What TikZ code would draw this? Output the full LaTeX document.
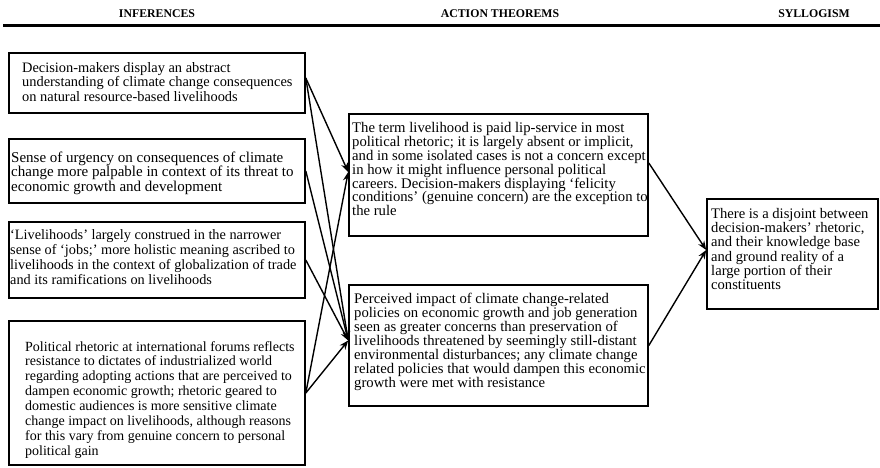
\documentclass[tikz,border=0pt]{standalone}
\usepackage{fontspec}
\setmainfont{Liberation Serif}
\usetikzlibrary{arrows.meta}
\frenchspacing
\begin{document}
\begin{tikzpicture}[x=1pt,y=-1pt,
  box/.style={draw, line width=1.6pt, inner sep=0pt, rectangle},
  txt/.style={anchor=north west, inner sep=0pt, align=left},
  conn/.style={line width=1.4pt, -{Stealth[length=9pt,width=7pt]}},
  head/.style={font=\bfseries\fontsize{11.8}{12}\selectfont, inner sep=0pt}]
\useasboundingbox (0,0) rectangle (880,468);
% headers
\node[head] (h1) at (157,14) {INFERENCES};
\node[head] (h2) at (500,14) {ACTION THEOREMS};
\node[head] (h3) at (814,14) {SYLLOGISM};
\coordinate (r1) at (3,26);
\coordinate (r2) at (880,26);
\draw[line width=3pt] (r1) -- (r2);
% boxes
\node[box, minimum width=296pt, minimum height=60pt] (i1) at (157,83) {};
\node[box, minimum width=296pt, minimum height=64pt] (i2) at (157,171) {};
\node[box, minimum width=296pt, minimum height=76pt] (i3) at (157,260) {};
\node[box, minimum width=296pt, minimum height=144pt] (i4) at (157,393) {};
\node[box, minimum width=299pt, minimum height=122pt] (a1) at (498.5,175) {};
\node[box, minimum width=299pt, minimum height=121pt] (a2) at (498.5,345.5) {};
\node[box, minimum width=171pt, minimum height=110pt] (s) at (792.5,254) {};
% texts
\node[txt, font=\fontsize{14.4}{14.8}\selectfont] (t1) at (22,62)
 {Decision-makers display an abstract\\understanding of climate change consequences\\on natural resource-based livelihoods};
\node[txt, font=\fontsize{15}{14.6}\selectfont] (t2) at (11,151.5)
 {Sense of urgency on consequences of climate\\change more palpable in context of its threat to\\economic growth and development};
\node[txt, font=\fontsize{14.3}{14.9}\selectfont] (t3) at (10,229.5)
 {‘Livelihoods’ largely construed in the narrower\\sense of ‘jobs;’ more holistic meaning ascribed to\\livelihoods in the context of globalization of trade\\and its ramifications on livelihoods};
\node[txt, font=\fontsize{14}{14.9}\selectfont] (t4) at (25,341)
 {Political rhetoric at international forums reflects\\resistance to dictates of industrialized world\\regarding adopting actions that are perceived to\\dampen economic growth; rhetoric geared to\\domestic audiences is more sensitive climate\\change impact on livelihoods, although reasons\\for this vary from genuine concern to personal\\political gain};
\node[txt, font=\fontsize{14.7}{13.9}\selectfont] (ta1) at (352,122)
 {The term livelihood is paid lip-service in most\\political rhetoric; it is largely absent or implicit,\\and in some isolated cases is not a concern except\\in how it might influence personal political\\careers. Decision-makers displaying ‘felicity\\conditions’ (genuine concern) are the exception to\\the rule};
\node[txt, font=\fontsize{14.7}{14}\selectfont] (ta2) at (354,293)
 {Perceived impact of climate change-related\\policies on economic growth and job generation\\seen as greater concerns than preservation of\\livelihoods threatened by seemingly still-distant\\environmental disturbances; any climate change\\related policies that would dampen this economic\\growth were met with resistance};
\node[txt, font=\fontsize{14.6}{14.3}\selectfont] (ts) at (711,208)
 {There is a disjoint between\\decision-makers’ rhetoric,\\and their knowledge base\\and ground reality of a\\large portion of their\\constituents};
% connectors
\draw[conn] ([yshift=5pt]i1.east) -- ([yshift=3pt]a1.west);
\draw[conn] ([yshift=5pt]i1.east) -- ([yshift=5pt]a2.west);
\draw[conn] (i2.east) -- ([yshift=5pt]a2.west);
\draw[conn] (i3.east) -- ([yshift=5pt]a2.west);
\draw[conn] (i4.east) -- ([yshift=3pt]a1.west);
\draw[conn] (i4.east) -- ([yshift=5pt]a2.west);
\draw[conn] ([yshift=12pt]a1.east) -- ([yshift=4pt]s.west);
\draw[conn] (a2.east) -- ([yshift=4pt]s.west);
\end{tikzpicture}
\end{document}
